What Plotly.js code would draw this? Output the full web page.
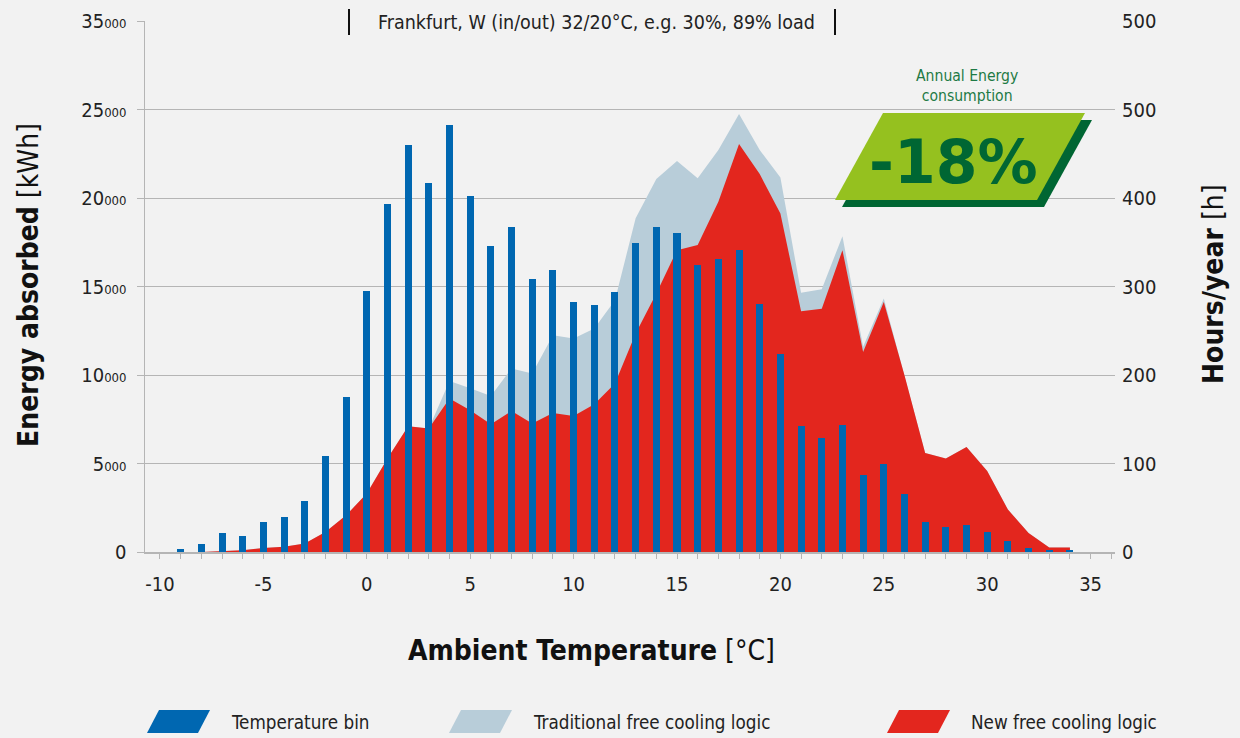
<!DOCTYPE html>
<html>
<head>
<meta charset="utf-8">
<script src="https://cdn.plot.ly/plotly-3.0.1.min.js"></script>
<style>
  html, body { margin: 0; padding: 0; background: #f2f2f2; }
  #chart { width: 1240px; height: 738px; }
</style>
</head>
<body>
<div id="chart"></div>
<script>
// ---- Data ----
// Temperature bins (°C) and hours/year per bin (right axis)
const binTemps = [-9,-8,-7,-6,-5,-4,-3,-2,-1,0,1,2,3,4,5,6,7,8,9,10,11,12,13,14,15,16,17,18,19,20,21,22,23,24,25,26,27,28,29,30,31,32,33,34];
const binHours = [3,9,21,18,34,40,58,109,175,295,393,460,417,482,402,346,367,308,319,283,279,294,349,367,361,324,331,341,280,224,142,129,144,87,99,65,34,28,31,23,12,5,2,2];

// Energy absorbed (kWh) per temperature (left axis)
const areaTemps = [-8,-7,-6,-5,-4,-3,-2,-1,0,1,2,3,4,5,6,7,8,9,10,11,12,13,14,15,16,17,18,19,20,21,22,23,24,25,26,27,28,29,30,31,32,33,34];
const traditionalKWh = [0,60,100,230,300,475,1130,2075,3300,5280,7105,6975,9665,9250,8820,10365,10085,12250,12065,12630,14230,18850,21070,22085,21110,22710,24745,22710,21165,14640,14850,17845,11590,14325,9990,5600,5280,5935,4580,2400,1075,250,250];
const newKWh = [0,60,100,230,300,475,1130,2075,3300,5280,7105,6975,8670,8010,7220,7970,7260,7860,7690,8350,9520,12350,14610,17055,17340,19785,23050,21350,19130,13605,13750,17055,11305,14130,9990,5600,5280,5935,4580,2400,1075,250,250];

// Axis ticks
const xTickVals = [-10,-5,0,5,10,15,20,25,30,35];
const yTickVals = [0,5000,10000,15000,20000,25000,30000];
const yTickText = ['0','5<span style="font-size:13px">000</span>','10<span style="font-size:13px">000</span>','15<span style="font-size:13px">000</span>','20<span style="font-size:13px">000</span>','25<span style="font-size:13px">000</span>','35<span style="font-size:13px">000</span>'];
const y2TickVals = [0,100,200,300,400,500,600];
const y2TickText = ['0','100','200','300','400','500','500'];

// ---- Layout helpers (pixel -> paper) ----
const L = 145, R = 1115, T = 21, B = 552;
const px = x => (x - L) / (R - L);
const py = y => (B - y) / (B - T);
function poly(pts) {
  return 'M ' + pts.map(p => px(p[0]).toFixed(5) + ' ' + py(p[1]).toFixed(5)).join(' L ') + ' Z';
}

const FONT = '"DejaVu Sans Condensed", "Liberation Sans Narrow", "DejaVu Sans", sans-serif';
const GRID = '#b5b5b5';
const BLUE = '#0067b1', GRAY = '#b8cdd9', RED = '#e3261e';

const traces = [
  { type: 'scatter', mode: 'lines', name: 'Traditional free cooling logic',
    x: areaTemps, y: traditionalKWh, fill: 'tozeroy', fillcolor: GRAY,
    line: { width: 0, color: GRAY }, hoverinfo: 'x+y' },
  { type: 'scatter', mode: 'lines', name: 'New free cooling logic',
    x: areaTemps, y: newKWh, fill: 'tozeroy', fillcolor: RED,
    line: { width: 0, color: RED }, hoverinfo: 'x+y' },
  { type: 'bar', name: 'Temperature bin', x: binTemps, y: binHours, yaxis: 'y2',
    width: 0.34, marker: { color: BLUE } }
];

function legendSwatch(x0, color) {
  return { type: 'path', xref: 'paper', yref: 'paper', layer: 'above',
    path: poly([[x0 + 12, 710], [x0 + 63, 710], [x0 + 51, 733], [x0, 733]]),
    fillcolor: color, line: { width: 0 } };
}

const shapes = [
  // gap in top grid line behind the header text
  { type: 'rect', xref: 'paper', yref: 'paper', layer: 'above',
    x0: px(350), x1: px(834), y0: py(27), y1: py(15), fillcolor: '#f2f2f2', line: { width: 0 } },
  { type: 'line', xref: 'paper', yref: 'paper', x0: px(349), x1: px(349), y0: py(9), y1: py(35), line: { color: '#111', width: 2 } },
  { type: 'line', xref: 'paper', yref: 'paper', x0: px(835), x1: px(835), y0: py(9), y1: py(35), line: { color: '#111', width: 2 } },
  // badge
  { type: 'path', xref: 'paper', yref: 'paper', layer: 'above',
    path: poly([[890, 120], [1092, 120], [1044, 207], [842, 207]]), fillcolor: '#006633', line: { width: 0 } },
  { type: 'path', xref: 'paper', yref: 'paper', layer: 'above',
    path: poly([[883, 113], [1085, 113], [1037, 200], [835, 200]]), fillcolor: '#95c11f', line: { width: 0 } },
  // legend swatches
  legendSwatch(147, BLUE),
  legendSwatch(449, GRAY),
  legendSwatch(887, RED)
];

const annotations = [
  { xref: 'paper', yref: 'paper', x: px(596), y: py(22), text: 'Frankfurt, W (in/out) 32/20°C, e.g. 30%, 89% load',
    showarrow: false, xanchor: 'center', yanchor: 'middle', font: { family: FONT, size: 19.5, color: '#222' } },
  { xref: 'paper', yref: 'paper', x: px(967), y: py(86), text: 'Annual Energy<br>consumption',
    showarrow: false, xanchor: 'center', yanchor: 'middle', font: { family: FONT, size: 15.6, color: '#1e7a45' } },
  { xref: 'paper', yref: 'paper', x: px(953), y: py(162), text: '<b>-18%</b>',
    showarrow: false, xanchor: 'center', yanchor: 'middle', font: { family: '"DejaVu Sans", sans-serif', size: 60, color: '#006633' } },
  // axis titles
  { xref: 'paper', yref: 'paper', x: px(28), y: py(285), text: '<b>Energy absorbed</b> [kWh]', textangle: -90,
    showarrow: false, xanchor: 'center', yanchor: 'middle', font: { family: FONT, size: 28, color: '#111' } },
  { xref: 'paper', yref: 'paper', x: px(1213), y: py(284), text: '<b>Hours/year</b> [h]', textangle: -90,
    showarrow: false, xanchor: 'center', yanchor: 'middle', font: { family: FONT, size: 28, color: '#111' } },
  { xref: 'paper', yref: 'paper', x: px(591), y: py(650), text: '<b>Ambient Temperature</b> [°C]',
    showarrow: false, xanchor: 'center', yanchor: 'middle', font: { family: FONT, size: 28, color: '#111' } },
  // legend labels
  { xref: 'paper', yref: 'paper', x: px(229), y: py(722), text: 'Temperature bin',
    showarrow: false, xanchor: 'left', yanchor: 'middle', font: { family: FONT, size: 18.7, color: '#222' } },
  { xref: 'paper', yref: 'paper', x: px(531), y: py(722), text: 'Traditional free cooling logic',
    showarrow: false, xanchor: 'left', yanchor: 'middle', font: { family: FONT, size: 18.7, color: '#222' } },
  { xref: 'paper', yref: 'paper', x: px(969), y: py(722), text: 'New free cooling logic',
    showarrow: false, xanchor: 'left', yanchor: 'middle', font: { family: FONT, size: 18.7, color: '#222' } }
];

const layout = {
  width: 1240, height: 738,
  margin: { l: L, r: 1240 - R, t: T, b: 738 - B, pad: 0 },
  paper_bgcolor: '#f2f2f2', plot_bgcolor: '#f2f2f2',
  showlegend: false,
  bargap: 0,
  font: { family: FONT, size: 20, color: '#222' },
  xaxis: {
    range: [-10.725, 36.18], tickvals: xTickVals, ticktext: xTickVals.map(String),
    ticks: 'outside', ticklen: 5, tickcolor: GRID, tickwidth: 1,
    minor: { dtick: 1, tick0: 0, ticks: 'outside', ticklen: 5, tickcolor: GRID, showgrid: false },
    showline: true, linecolor: GRID, linewidth: 1.5, showgrid: false, zeroline: false,
    ticklabelstandoff: 8, tickfont: { family: FONT, size: 20, color: '#222' }, fixedrange: true
  },
  yaxis: {
    range: [0, 30000], tickvals: yTickVals, ticktext: yTickText,
    ticks: 'outside', ticklen: 7, tickcolor: GRID, tickwidth: 1,
    showline: true, linecolor: GRID, linewidth: 1.5, showgrid: true, gridcolor: GRID, gridwidth: 1,
    zeroline: false, ticklabelstandoff: 6, tickfont: { family: FONT, size: 20, color: '#222' }, fixedrange: true
  },
  yaxis2: {
    range: [0, 600], tickvals: y2TickVals, ticktext: y2TickText, overlaying: 'y', side: 'right',
    ticks: '', showline: false, showgrid: false, zeroline: false,
    ticklabelstandoff: 6, tickfont: { family: FONT, size: 20, color: '#222' }, fixedrange: true
  },
  shapes: shapes,
  annotations: annotations
};

Plotly.newPlot('chart', traces, layout, { displayModeBar: false, staticPlot: true });
</script>
</body>
</html>
